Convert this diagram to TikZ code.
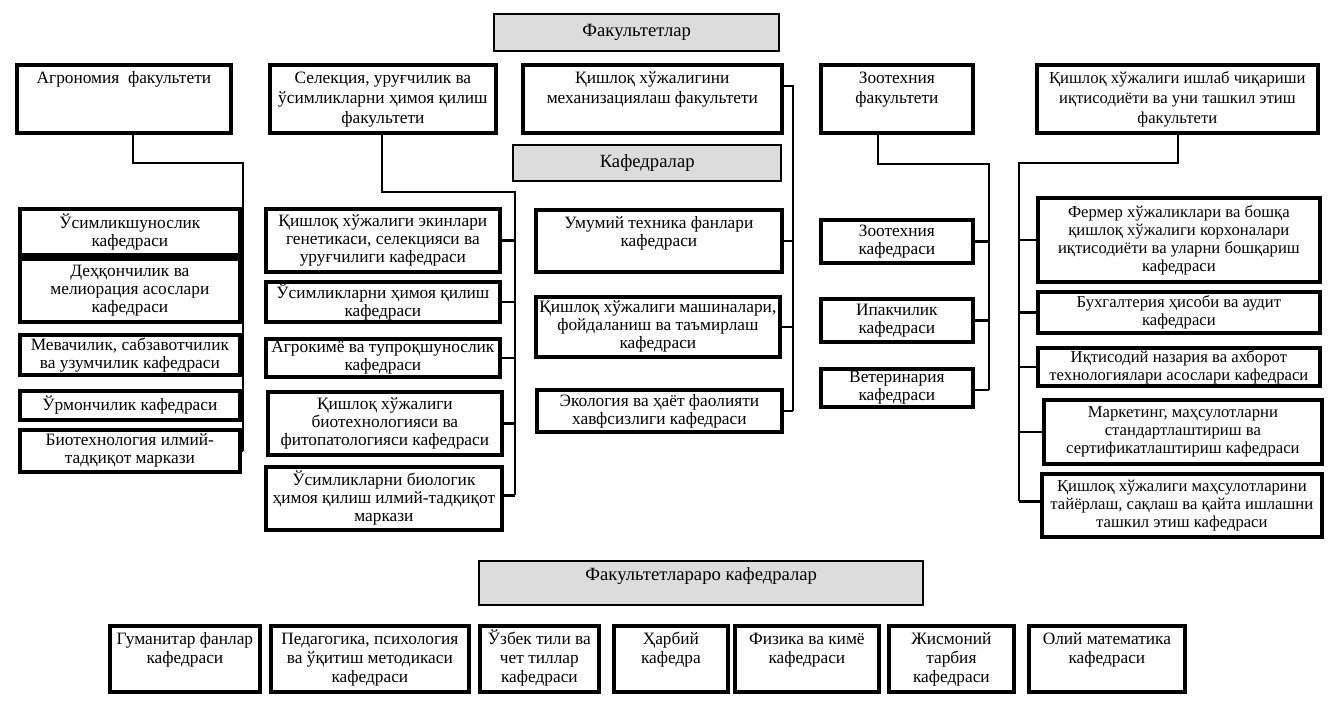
\documentclass[tikz,border=0pt]{standalone}
\usepackage{fontspec}
\setmainfont{Liberation Serif}
\usetikzlibrary{calc}
\definecolor{gfill}{RGB}{220,220,220}
\tikzset{
  box/.style={draw, line width=2.8pt, fill=white, inner sep=0pt},
  gbox/.style={draw, line width=1.8pt, fill=gfill, inner sep=0pt},
  ftxt/.style={inner sep=0pt, align=center, font=\fontsize{13pt}{15pt}\selectfont},
  fstxt/.style={ftxt, font=\fontsize{12.5pt}{15pt}\selectfont},
  btxt/.style={ftxt, font=\fontsize{13pt}{14.5pt}\selectfont},
  ktxt/.style={inner sep=0pt, align=center, font=\fontsize{13pt}{13.5pt}\selectfont},
  kstxt/.style={ktxt, font=\fontsize{12.5pt}{13.5pt}\selectfont},
  htxt/.style={inner sep=0pt, align=center, font=\fontsize{14pt}{16pt}\selectfont},
  conn/.style={line width=1.7pt},
}
% top-aligned text: text style, box style, name, x1, y1, x2, y2, text
\newcommand\tbox[8]{%
  \node[#2, anchor=north west, minimum width={(#6-#4)*0.75pt}, minimum height={(#7-#5)*0.75pt}] (#3) at (#4,#5) {};
  \node[#1, anchor=north] (#3t) at ([yshift=-3.4pt]#3.north) {\rule{0pt}{11.5pt}#8};
}
% centred text: text style, box style, name, x1, y1, x2, y2, text
\newcommand\cbox[8]{%
  \node[#2, #1, anchor=north west, minimum width={(#6-#4)*0.75pt}, minimum height={(#7-#5)*0.75pt}] (#3) at (#4,#5) {#8};
}
\begin{document}
\begin{tikzpicture}[x=0.75pt, y=-0.75pt]
\fill[white] (0,0) rectangle (1337,707);
\useasboundingbox (0,0) rectangle (1337,707);

% headers
\cbox{htxt}{gbox}{fak}{493}{13}{778}{50}{Факультетлар}
\cbox{htxt}{gbox}{kaf}{512}{144}{780}{180}{Кафедралар}
\tbox{htxt}{gbox}{fl}{478}{560}{922}{604}{Факультетлараро кафедралар}

% faculties
\tbox{ftxt}{box}{f1}{15}{63}{229}{131}{Агрономия~ факультети}
\tbox{ftxt}{box}{f2}{268}{63}{494}{131}{Селекция, уруғчилик ва\\ўсимликларни ҳимоя қилиш\\факультети}
\tbox{ftxt}{box}{f3}{521}{63}{780}{131}{Қишлоқ хўжалигини\\механизациялаш факультети}
\tbox{ftxt}{box}{f4}{819}{63}{971}{131}{Зоотехния\\факультети}
\tbox{fstxt}{box}{f5}{1035}{63}{1316}{131}{Қишлоқ хўжалиги ишлаб чиқариши\\иқтисодиёти ва уни ташкил этиш\\факультети}

% column 1
\cbox{ktxt}{box}{a1}{18}{207}{238}{253}{Ўсимликшунослик\\кафедраси}
\cbox{ktxt}{box}{a2}{18}{257}{238}{320}{Деҳқончилик ва\\мелиорация асослари\\кафедраси}
\cbox{ktxt}{box}{a3}{18}{333}{238}{373}{Мевачилик, сабзавотчилик\\ва узумчилик кафедраси}
\cbox{ktxt}{box}{a4}{18}{389}{238}{418}{Ўрмончилик кафедраси}
\cbox{ktxt}{box}{a5}{18}{428}{238}{470}{Биотехнология илмий-\\тадқиқот маркази}

% column 2
\cbox{ktxt}{box}{b1}{264}{207}{498}{270}{Қишлоқ хўжалиги экинлари\\генетикаси, селекцияси ва\\уруғчилиги кафедраси}
\cbox{ktxt}{box}{b2}{264}{280}{498}{320}{Ўсимликларни ҳимоя қилиш\\кафедраси}
\cbox{ktxt}{box}{b3}{264}{337}{498}{375}{Агрокимё ва тупроқшунослик\\кафедраси}
\cbox{ktxt}{box}{b4}{266}{390}{500}{453}{Қишлоқ хўжалиги\\биотехнологияси ва\\фитопатологияси кафедраси}
\cbox{ktxt}{box}{b5}{264}{465}{500}{528}{Ўсимликларни биологик\\ҳимоя қилиш илмий-тадқиқот\\маркази}

% column 3
\tbox{ktxt}{box}{c1}{534}{208}{780}{270}{Умумий техника фанлари\\кафедраси}
\cbox{ktxt}{box}{c2}{534}{295}{778}{355}{Қишлоқ хўжалиги машиналари,\\фойдаланиш ва таъмирлаш\\кафедраси}
\cbox{ktxt}{box}{c3}{535}{388}{780}{430}{Экология ва ҳаёт фаолияти\\хавфсизлиги кафедраси}

% column 4
\cbox{ktxt}{box}{d1}{819}{218}{971}{261}{Зоотехния\\кафедраси}
\cbox{ktxt}{box}{d2}{819}{297}{971}{340}{Ипакчилик\\кафедраси}
\cbox{ktxt}{box}{d3}{819}{367}{971}{405}{Ветеринария\\кафедраси}

% column 5
\cbox{kstxt}{box}{e1}{1036}{196}{1318}{280}{Фермер хўжаликлари ва бошқа\\қишлоқ хўжалиги корхоналари\\иқтисодиёти ва уларни бошқариш\\кафедраси}
\cbox{kstxt}{box}{e2}{1036}{290}{1318}{331}{Бухгалтерия ҳисоби ва аудит\\кафедраси}
\cbox{kstxt}{box}{e3}{1036}{346}{1318}{384}{Иқтисодий назария ва ахборот\\технологиялари асослари кафедраси}
\cbox{kstxt}{box}{e4}{1042}{398}{1320}{462}{Маркетинг, маҳсулотларни\\стандартлаштириш ва\\сертификатлаштириш кафедраси}
\cbox{kstxt}{box}{e5}{1040}{472}{1320}{535}{Қишлоқ хўжалиги маҳсулотларини\\тайёрлаш, сақлаш ва қайта ишлашни\\ташкил этиш кафедраси}

% bottom row
\tbox{btxt}{box}{g1}{108}{624}{258}{690}{Гуманитар фанлар\\кафедраси}
\tbox{btxt}{box}{g2}{269}{624}{467}{690}{Педагогика, психология\\ва ўқитиш методикаси\\кафедраси}
\tbox{btxt}{box}{g3}{478}{624}{597}{690}{Ўзбек тили ва\\чет тиллар\\кафедраси}
\tbox{btxt}{box}{g4}{612}{624}{726}{690}{Ҳарбий\\кафедра}
\tbox{btxt}{box}{g5}{733}{624}{877}{690}{Физика ва кимё\\кафедраси}
\tbox{btxt}{box}{g6}{887}{624}{1012}{690}{Жисмоний\\тарбия\\кафедраси}
\tbox{btxt}{box}{g7}{1027}{624}{1183}{690}{Олий математика\\кафедраси}

% bus coordinates
\coordinate (pa) at (133,163);
\coordinate (qa) at (243,163);
\coordinate (pb) at (382,192);
\coordinate (qb) at (515,192);
\coordinate (qc) at (793,86);
\coordinate (pd) at (878,164);
\coordinate (qd) at (989,164);
\coordinate (pe) at (1178,163);
\coordinate (qe) at (1019,163);

% connectors
\draw[conn] (f1.south -| pa) -- (pa) -- (qa) -- (qa |- a5.east);
\foreach \n in {a1,a2,a3,a4,a5} \draw[conn] (\n.east) -- (\n.east -| qa);

\draw[conn] (f2.south -| pb) -- (pb) -- (qb) -- ($(qb |- b5.east)+(0,-3)$);
\foreach \n in {b1,b2,b3,b4} \draw[conn] (\n.east) -- (\n.east -| qb);
\draw[conn] ($(b5.east)+(0,-3)$) -- ($(b5.east -| qb)+(0,-3)$);

\draw[conn] (f3.east |- qc) -- (qc) -- (qc |- c3.east);
\foreach \n in {c1,c2,c3} \draw[conn] (\n.east) -- (\n.east -| qc);

\draw[conn] (f4.south -| pd) -- (pd) -- (qd) -- ($(qd |- d3.east)+(0,2)$);
\foreach \n in {d1,d2} \draw[conn] (\n.east) -- (\n.east -| qd);
\draw[conn] ($(d3.east)+(0,2)$) -- ($(d3.east -| qd)+(0,2)$);

\draw[conn] (f5.south -| pe) -- (pe) -- (qe) -- ($(qe |- e5.west)+(0,-4)$);
\foreach \n in {e1,e2,e3,e4} \draw[conn] (\n.west) -- (\n.west -| qe);
\draw[conn] ($(e5.west)+(0,-4)$) -- ($(e5.west -| qe)+(0,-4)$);
\end{tikzpicture}
\end{document}
